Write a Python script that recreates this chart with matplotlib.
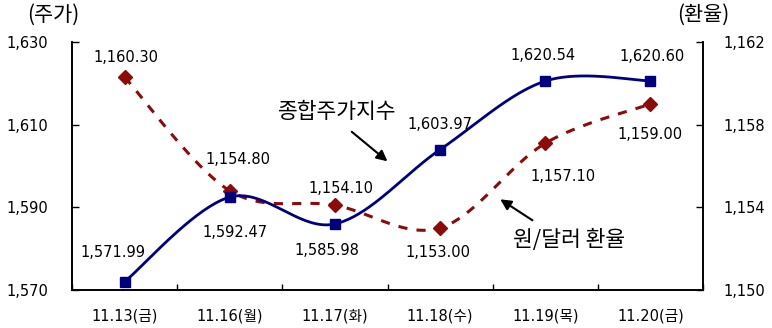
import numpy as np
import matplotlib
matplotlib.use("Agg")
import matplotlib.pyplot as plt
from matplotlib.ticker import FuncFormatter

plt.rcParams['font.family'] = ['Noto Sans CJK KR', 'DejaVu Sans']

dates = ["11.13(금)", "11.16(월)", "11.17(화)", "11.18(수)", "11.19(목)", "11.20(금)"]
kospi = [1571.99, 1592.47, 1585.98, 1603.97, 1620.54, 1620.60]
fx = [1160.30, 1154.80, 1154.10, 1153.00, 1157.10, 1159.00]

kospi_ticks = [1570, 1590, 1610, 1630]
fx_ticks = [1150, 1154, 1158, 1162]

# label offsets in pixels (dx, dy)
kospi_offsets = [(-12, 29), (5, -35), (-8, -27), (0, 25), (-2, 26), (2, 24)]
fx_offsets = [(1, 20), (8, 31), (6, 17), (-2, -25), (18, -33), (0, -31)]

NAVY = "#00007f"
RED = "#8c0a0a"
NUM_FONT = ['DejaVu Sans', 'Noto Sans CJK KR']


def smooth(xs, ys, n=40):
    """Catmull-Rom curve through the points (spreadsheet-style smoothed line)."""
    xs = np.asarray(xs, float)
    ys = np.asarray(ys, float)
    px = np.concatenate([[xs[0]], xs, [xs[-1]]])
    py = np.concatenate([[ys[0]], ys, [ys[-1]]])
    ox, oy = [], []
    t = np.linspace(0, 1, n)
    for i in range(1, len(px) - 2):
        for arr, out in ((px, ox), (py, oy)):
            p0, p1, p2, p3 = arr[i - 1], arr[i], arr[i + 1], arr[i + 2]
            c1 = p1 + (p2 - p0) / 6
            c2 = p2 - (p3 - p1) / 6
            seg = ((1 - t) ** 3 * p1 + 3 * (1 - t) ** 2 * t * c1
                   + 3 * (1 - t) * t ** 2 * c2 + t ** 3 * p2)
            out.extend(seg if i == 1 else seg[1:])
    return np.array(ox), np.array(oy)


fig = plt.figure(figsize=(7.72, 3.28), dpi=100)
ax = fig.add_axes([0.0933, 0.1159, 0.8173, 0.7561])
ax2 = ax.twinx()

x = np.arange(len(dates))
thousands = FuncFormatter(lambda v, p: f"{int(v):,}")

# exchange rate (right axis)
sx, sy = smooth(x, fx)
ax2.plot(sx, sy, color=RED, lw=2.2, ls=(0, (3, 3)), zorder=2)
ax2.plot(x, fx, ls="none", marker="D", ms=7, color=RED, zorder=3)
ax2.set_ylim(1150, 1162)
ax2.set_yticks(fx_ticks)
ax2.yaxis.set_major_formatter(thousands)

# stock index (left axis)
sx, sy = smooth(x, kospi)
ax.plot(sx, sy, color=NAVY, lw=2.0, zorder=4)
ax.plot(x, kospi, ls="none", marker="s", ms=6.5, color=NAVY, zorder=5)
ax.set_ylim(1570, 1630)
ax.set_yticks(kospi_ticks)
ax.yaxis.set_major_formatter(thousands)
ax.set_zorder(ax2.get_zorder() + 1)
ax.patch.set_visible(False)

ax.set_xlim(-0.5, len(dates) - 0.5)
ax.set_xticks(x)
ax.set_xticklabels(dates, fontsize=10.5, family=NUM_FONT)
ax.set_xticks(np.arange(len(dates) + 1) - 0.5, minor=True)
ax.tick_params(axis="x", which="major", length=0, pad=13)
ax.tick_params(axis="x", which="minor", direction="in", length=4, width=1)
ax.tick_params(axis="y", direction="in", length=5, width=1, labelsize=10.5, pad=17)
ax2.tick_params(axis="y", direction="in", length=5, width=1, labelsize=10.5, pad=15)
for lab in ax.get_yticklabels() + ax2.get_yticklabels():
    lab.set_family(NUM_FONT)

for a in (ax, ax2):
    a.spines["top"].set_visible(False)
    for s in ("left", "right", "bottom"):
        a.spines[s].set_linewidth(1.2)

for xi, v, (dx, dy) in zip(x, kospi, kospi_offsets):
    ax.annotate(f"{v:,.2f}", (xi, v), xytext=(dx, dy), textcoords="offset pixels",
                ha="center", va="center", fontsize=10.5, family=NUM_FONT, zorder=6)
for xi, v, (dx, dy) in zip(x, fx, fx_offsets):
    ax2.annotate(f"{v:,.2f}", (xi, v), xytext=(dx, dy), textcoords="offset pixels",
                 ha="center", va="center", fontsize=10.5, family=NUM_FONT)

ax.annotate("", xy=(2.52, 1600.7), xytext=(2.14, 1608.7),
            arrowprops=dict(arrowstyle="-|>", color="black", lw=1.5, mutation_scale=16))
ax.text(2.02, 1613.1, "종합주가지수", ha="center", va="center", fontsize=15.5)
ax.annotate("", xy=(3.55, 1592.3), xytext=(3.90, 1586.5),
            arrowprops=dict(arrowstyle="-|>", color="black", lw=1.5, mutation_scale=16))
ax.text(4.23, 1582.1, "원/달러 환율", ha="center", va="center", fontsize=15.5)

fig.text(53 / 772, 1 - 15 / 328, "(주가)", ha="center", va="center", fontsize=15)
fig.text(703 / 772, 1 - 15 / 328, "(환율)", ha="center", va="center", fontsize=15)

fig.savefig("out.png", dpi=100)
